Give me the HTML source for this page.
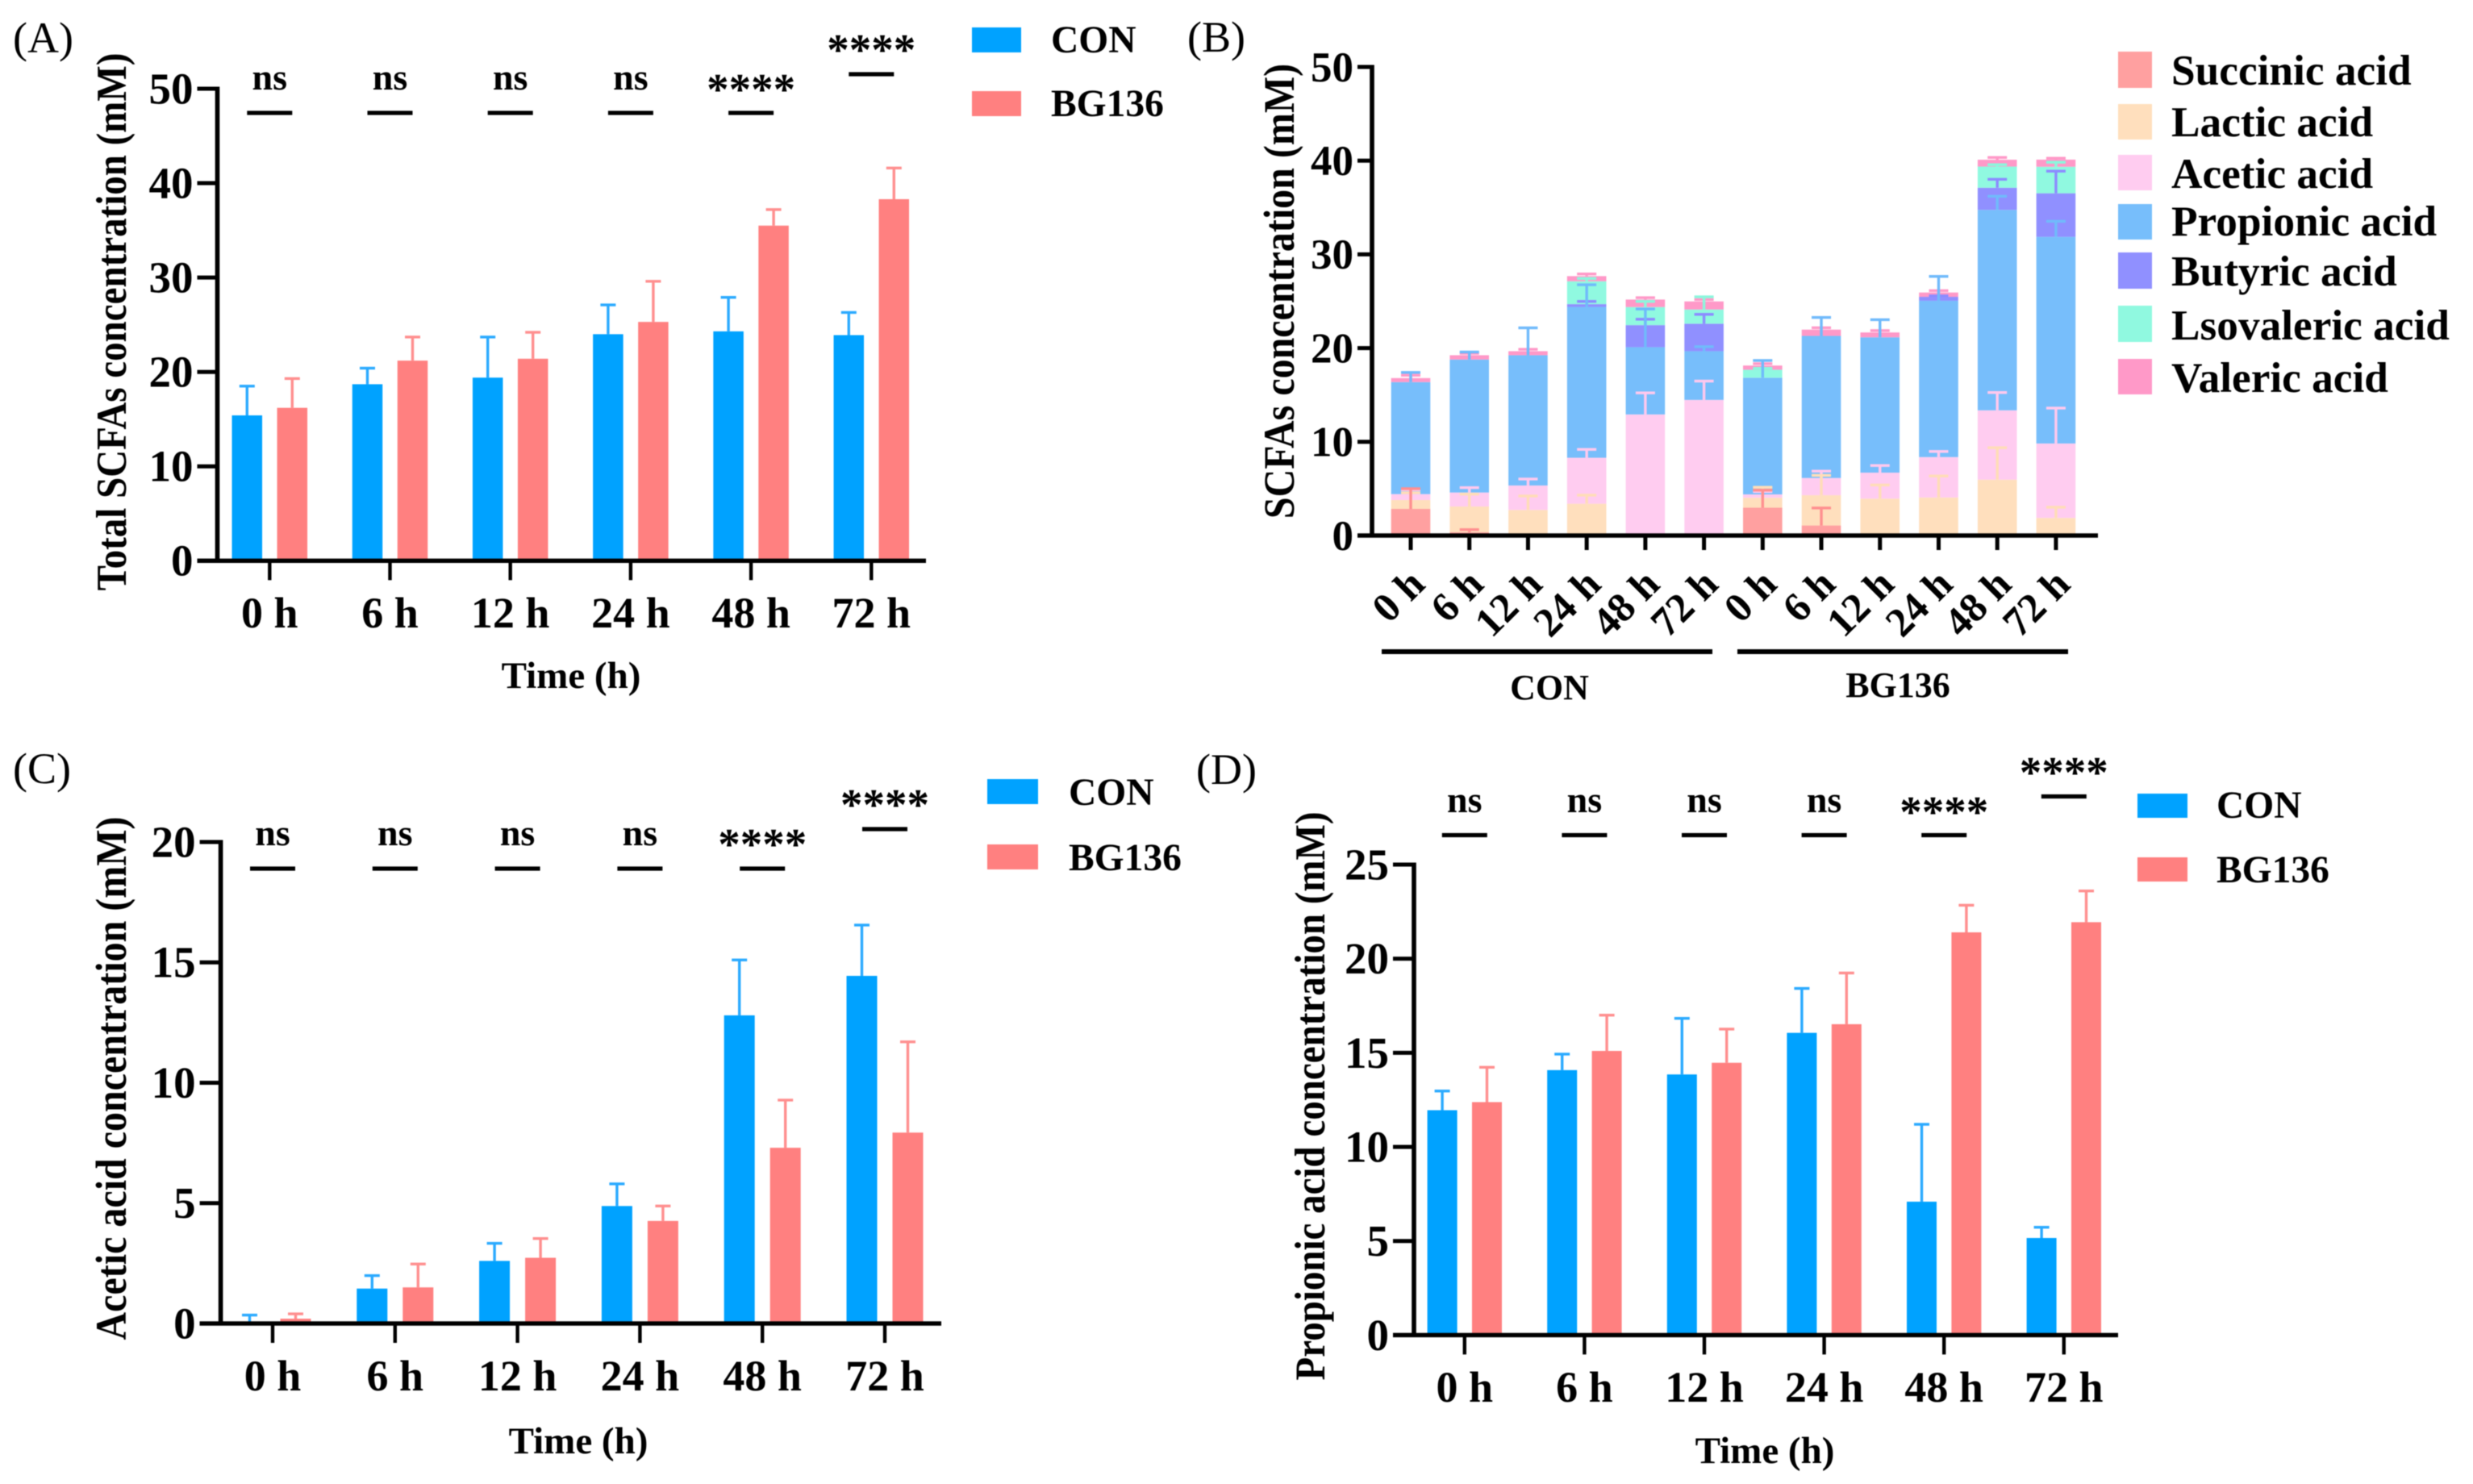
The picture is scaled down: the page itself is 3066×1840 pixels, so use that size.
<!DOCTYPE html>
<html lang="en">
<head>
<meta charset="utf-8">
<title>SCFA concentrations over time</title>
<style>
html,body{margin:0;padding:0;background:#fff;}
svg{display:block;font-family:"Liberation Serif","Noto Serif CJK SC",serif;filter:blur(0.6px);}
.b{font-weight:bold;fill:#000;}
.t{font-size:47px;}
.l{font-size:47.5px;}
.p{font-size:54px;fill:#000;}
.k{font-size:53.3px;}
</style>
</head>
<body>
<svg id="figure" width="3066" height="1840" viewBox="0 0 3066 1840" xmlns="http://www.w3.org/2000/svg">
<rect x="0" y="0" width="3066" height="1840" fill="#fff"/>

<g id="panel-a">
<text class="p" x="16" y="65">(A)</text>
<text class="b t" text-anchor="middle" transform="translate(156,399) rotate(-90) scale(1,1.13)">Total SCFAs concentration (mM)</text>
<text class="b t" text-anchor="middle" x="708" y="853">Time (h)</text>
<rect x="1205" y="34" width="61" height="31" fill="#00A2FF"/>
<text class="b l" x="1303" y="65">CON</text>
<rect x="1205" y="113" width="61" height="31" fill="#FF8080"/>
<text class="b l" x="1303" y="144">BG136</text>
</g>

<g id="panel-b">
<text class="p" x="1472" y="64">(B)</text>
<text class="b t" style="font-size:48px" text-anchor="middle" transform="translate(1604,361) rotate(-90) scale(1,1.13)">SCFAs concentration (mM)</text>
<rect x="1713" y="805" width="410" height="6" fill="#000"/>
<rect x="2154" y="805" width="410" height="6" fill="#000"/>
<text class="b" style="font-size:44px" text-anchor="middle" x="1921" y="867">CON</text>
<text class="b" style="font-size:44px" text-anchor="middle" x="2353" y="864">BG136</text>
<rect x="2626" y="64" width="42" height="45" fill="#FFA0A0"/>
<text class="b k" x="2692" y="105">Succinic acid</text>
<rect x="2626" y="129" width="42" height="44" fill="#FFDFBD"/>
<text class="b k" x="2692" y="169">Lactic acid</text>
<rect x="2626" y="192" width="42" height="44" fill="#FFCCF0"/>
<text class="b k" x="2692" y="233">Acetic acid</text>
<rect x="2626" y="253" width="42" height="44" fill="#77BEFB"/>
<text class="b k" x="2692" y="292">Propionic acid</text>
<rect x="2626" y="313" width="42" height="45" fill="#9090FF"/>
<text class="b k" x="2692" y="354">Butyric acid</text>
<rect x="2626" y="379" width="42" height="45" fill="#90F9E0"/>
<text class="b k" x="2692" y="421">Lsovaleric acid</text>
<rect x="2626" y="445" width="42" height="44" fill="#FF99C8"/>
<text class="b k" x="2692" y="486">Valeric acid</text>
</g>

<g id="panel-c">
<text class="p" x="16" y="971">(C)</text>
<text class="b t" style="font-size:48px" text-anchor="middle" transform="translate(156,1337) rotate(-90) scale(1,1.13)">Acetic acid concentration (mM)</text>
<text class="b t" text-anchor="middle" x="717" y="1802">Time (h)</text>
<rect x="1224" y="966" width="63" height="31" fill="#00A2FF"/>
<text class="b l" x="1325" y="998">CON</text>
<rect x="1224" y="1047" width="63" height="31" fill="#FF8080"/>
<text class="b l" x="1325" y="1079">BG136</text>
</g>

<g id="panel-d">
<text class="p" x="1483" y="972">(D)</text>
<text class="b t" text-anchor="middle" transform="translate(1642,1359) rotate(-90) scale(1,1.13)">Propionic acid concentration (mM)</text>
<text class="b t" text-anchor="middle" x="2188" y="1814">Time (h)</text>
<rect x="2650" y="984" width="62" height="30" fill="#00A2FF"/>
<text class="b l" x="2748" y="1014">CON</text>
<rect x="2650" y="1063" width="62" height="30" fill="#FF8080"/>
<text class="b l" x="2748" y="1094">BG136</text>
</g>
</svg>

<script>
/* shared categories and labels */
const timeLabels = ['0 h', '6 h', '12 h', '24 h', '48 h', '72 h'];
const sigLabels = ['ns', 'ns', 'ns', 'ns', '****', '****'];

/* panel A: total SCFAs */
const totalTicks = [0, 10, 20, 30, 40, 50];
const totalCon = [15.4, 18.7, 19.4, 24.0, 24.3, 23.9];
const totalConErr = [3.1, 1.7, 4.3, 3.1, 3.6, 2.4];
const totalBg = [16.2, 21.2, 21.4, 25.3, 35.5, 38.3];
const totalBgErr = [3.1, 2.5, 2.8, 4.3, 1.7, 3.3];

/* panel C: acetic acid */
const aceticTicks = [0, 5, 10, 15, 20];
const aceticCon = [0.05, 1.45, 2.6, 4.88, 12.8, 14.44];
const aceticConErr = [0.3, 0.54, 0.73, 0.92, 2.3, 2.11];
const aceticBg = [0.2, 1.5, 2.73, 4.26, 7.3, 7.93];
const aceticBgErr = [0.2, 0.97, 0.8, 0.62, 1.98, 3.77];

/* panel D: propionic acid */
const propionicTicks = [0, 5, 10, 15, 20, 25];
const propionicCon = [11.95, 14.08, 13.85, 16.06, 7.09, 5.16];
const propionicConErr = [1.02, 0.85, 2.98, 2.36, 4.11, 0.57];
const propionicBg = [12.38, 15.1, 14.47, 16.52, 21.4, 21.94];
const propionicBgErr = [1.85, 1.9, 1.79, 2.72, 1.44, 1.66];

/* panel B: stacked acids, CON 0-72 h then BG136 0-72 h */
const stackTicks = [0, 10, 20, 30, 40, 50];
const stackLabels = ['0 h', '6 h', '12 h', '24 h', '48 h', '72 h', '0 h', '6 h', '12 h', '24 h', '48 h', '72 h'];
const succinic = [2.84, 0.34, 0, 0, 0, 0, 2.97, 1.07, 0, 0, 0, 0];
const succinicErr = [2.16, 0.29, 0, 0, 0, 0, 1.87, 1.87, 0, 0, 0, 0];
const lactic = [0.95, 2.76, 2.73, 3.39, 0, 0, 1.06, 3.23, 3.94, 4.06, 5.96, 1.88];
const lacticErr = [0.77, 1.32, 1.49, 0.92, 0, 0, 1.12, 2.12, 1.45, 2.29, 3.41, 1.14];
const acetic = [0.63, 1.49, 2.61, 4.91, 12.92, 14.47, 0.36, 1.84, 2.77, 4.31, 7.4, 7.94];
const aceticStackErr = [0.46, 0.52, 0.69, 0.89, 2.3, 2.01, 0.3, 0.73, 0.76, 0.6, 1.9, 3.78];
const propionic = [11.95, 14.19, 13.9, 16.1, 7.18, 5.2, 12.45, 15.16, 14.44, 16.68, 21.39, 22.05];
const propionicStackErr = [1.03, 0.8, 2.92, 2.36, 4.07, 0.48, 1.84, 1.97, 1.88, 2.6, 1.45, 1.66];
const butyric = [0, 0, 0, 0.29, 2.35, 2.93, 0, 0, 0, 0.42, 2.36, 4.65];
const butyricErr = [0, 0, 0, 0.29, 0.63, 1.0, 0, 0, 0, 0.1, 0.9, 2.36];
const isovaleric = [0, 0, 0, 2.44, 1.93, 1.52, 0.85, 0, 0, 0, 2.26, 2.83];
const isovalericErr = [0, 0, 0, 0.3, 0.6, 1.35, 0.15, 0, 0, 0, 0.2, 0.48];
const valeric = [0.43, 0.46, 0.43, 0.55, 0.8, 0.86, 0.45, 0.67, 0.52, 0.46, 0.73, 0.76];
const valericErr = [0.3, 0.2, 0.2, 0.23, 0.2, 0.2, 0.2, 0.2, 0.2, 0.2, 0.24, 0.15];

const SVG_NS = 'http://www.w3.org/2000/svg';

function add(parent, tag, name, attrs, text) {
  const el = document.createElementNS(SVG_NS, tag);
  
  
  for (const key in attrs) el.setAttribute(key, attrs[key]);
  if (text !== undefined) el.textContent = text;
  parent.appendChild(el);
  return el;
}

function rectBetween(parent, name, x0, y0, x1, y1, fill) {
  return add(parent, 'rect', name, {
    x: Math.min(x0, x1), y: Math.min(y0, y1),
    width: Math.abs(x1 - x0), height: Math.abs(y1 - y0), fill: fill
  });
}

function errorBar(parent, name, cx, yBase, yTop, color, capW) {
  rectBetween(parent, name + '-stem', cx - 1.7, yBase, cx + 1.7, yTop, color);
  rectBetween(parent, name + '-cap', cx - capW / 2, yTop - 1.7, cx + capW / 2, yTop + 1.7, color);
}

function drawAxes(g, c, ticks, tickFont) {
  const yMax = ticks[ticks.length - 1];
  const yScale = v => c.y0 - v * (c.y0 - c.yTop) / yMax;
  ticks.forEach(t => {
    const y = yScale(t);
    rectBetween(g, 'y-tick-' + t, c.axisX - c.tickLen, y - 2.5, c.axisX, y + 2.5, '#000');
    add(g, 'text', 'y-tick-label-' + t, {
      x: c.axisX - c.tickLen - 5, y: y + tickFont * 0.335, 'text-anchor': 'end',
      class: 'b', style: 'font-size:' + tickFont + 'px'
    }, String(t));
  });
  rectBetween(g, 'y-axis-line', c.axisX - 2.8, c.yTop - 2.5, c.axisX + 2.8, c.y0 + 2.5, '#000');
  rectBetween(g, 'x-axis-line', c.axisX - c.tickLen, c.y0 - 2.7, c.axisEnd, c.y0 + 2.7, '#000');
  return yScale;
}

function drawGrouped(id, c, ticks, labels, con, conErr, bg, bgErr) {
  const g = document.getElementById(id);
  const xScale = i => c.x0 + i * c.step;
  const yScale = v => c.y0 - v * (c.y0 - c.yTop) / ticks[ticks.length - 1];

  labels.forEach((label, i) => {
    const cx = xScale(i);
    const a = cx - c.offset;
    const b = cx + c.offset;
    rectBetween(g, 'bar-con-' + i, a - c.barW / 2, yScale(con[i]), a + c.barW / 2, c.y0, '#00A2FF');
    errorBar(g, 'error-con-' + i, a, yScale(con[i]), yScale(con[i] + conErr[i]), '#2BAAFF', 19);
    rectBetween(g, 'bar-bg136-' + i, b - c.barW / 2, yScale(bg[i]), b + c.barW / 2, c.y0, '#FF8080');
    errorBar(g, 'error-bg136-' + i, b, yScale(bg[i]), yScale(bg[i] + bgErr[i]), '#FF8F8F', 19);
  });

  drawAxes(g, c, ticks, 55);

  labels.forEach((label, i) => {
    const cx = xScale(i);
    rectBetween(g, 'x-tick-' + i, cx - 2.2, c.y0, cx + 2.2, c.y0 + 24, '#000');
    add(g, 'text', 'x-tick-label-' + i, {
      x: cx, y: c.tickLabelY, 'text-anchor': 'middle', class: 'b', style: 'font-size:54px'
    }, label);
    const top = i === labels.length - 1;
    const lineY = top ? c.sigTopLine : c.sigLine;
    rectBetween(g, 'significance-line-' + i, cx - 28, lineY - 2.6, cx + 28, lineY + 2.6, '#000');
    const isStars = sigLabels[i] !== 'ns';
    const textY = isStars ? (top ? c.starTopY : c.starY) : c.nsY;
    add(g, 'text', 'significance-label-' + i, {
      x: cx, y: textY, 'text-anchor': 'middle', class: 'b',
      style: 'font-size:' + (isStars ? 55 : 46) + 'px'
    }, sigLabels[i]);
  });
}

function drawStacked() {
  const g = document.getElementById('panel-b');
  const c = { axisX: 1701, axisEnd: 2601, tickLen: 18, y0: 664, yTop: 83 };
  const xScale = i => 1749 + i * 72.72;
  const yScale = v => c.y0 - v * (c.y0 - c.yTop) / stackTicks[stackTicks.length - 1];
  const names = ['succinic', 'lactic', 'acetic', 'propionic', 'butyric', 'isovaleric', 'valeric'];
  const colors = ['#FFA0A0', '#FFDFBD', '#FFCCF0', '#77BEFB', '#9090FF', '#90F9E0', '#FF99C8'];
  const errColors = ['#FF9090', '#FFDDB8', '#FFC8EE', '#70BAFB', '#8C8CFF', '#8CF7DD', '#FF99C8'];
  const series = [succinic, lactic, acetic, propionic, butyric, isovaleric, valeric];
  const errors = [succinicErr, lacticErr, aceticStackErr, propionicStackErr, butyricErr, isovalericErr, valericErr];

  stackLabels.forEach((label, i) => {
    const cx = xScale(i);
    const tops = [];
    let sum = 0;
    series.forEach((s, k) => {
      const start = sum;
      sum += s[i];
      tops.push(sum);
      if (s[i] > 0) {
        rectBetween(g, 'bar-' + names[k] + '-' + i, cx - 24.3, yScale(sum), cx + 24.3, yScale(start), colors[k]);
      }
    });
    for (let k = series.length - 1; k >= 0; k--) {
      if (series[k][i] > 0) {
        errorBar(g, 'error-' + names[k] + '-' + i, cx, yScale(tops[k]), yScale(tops[k] + errors[k][i]), errColors[k], 24);
      }
    }
  });

  drawAxes(g, c, stackTicks, 53);

  stackLabels.forEach((label, i) => {
    const cx = xScale(i);
    rectBetween(g, 'x-tick-' + i, cx - 2.5, c.y0, cx + 2.5, c.y0 + 18, '#000');
    add(g, 'text', 'x-tick-label-' + i, {
      'text-anchor': 'end', class: 'b', style: 'font-size:51px',
      transform: 'translate(' + (cx + 20) + ',727) rotate(-45)'
    }, label);
  });
}

drawGrouped('panel-a',
  { x0: 334.3, step: 149.2, offset: 28, barW: 37.5, y0: 695.3, yTop: 110, axisX: 269.5, axisEnd: 1148, tickLen: 25,
    tickLabelY: 778, sigLine: 140, sigTopLine: 92, nsY: 111, starY: 129, starTopY: 80 },
  totalTicks, timeLabels, totalCon, totalConErr, totalBg, totalBgErr);

drawGrouped('panel-c',
  { x0: 338, step: 151.8, offset: 28.5, barW: 38, y0: 1641, yTop: 1044, axisX: 273.6, axisEnd: 1167, tickLen: 26,
    tickLabelY: 1724, sigLine: 1077, sigTopLine: 1028, nsY: 1048, starY: 1065, starTopY: 1016 },
  aceticTicks, timeLabels, aceticCon, aceticConErr, aceticBg, aceticBgErr);

drawGrouped('panel-d',
  { x0: 1815.8, step: 148.6, offset: 27.7, barW: 37, y0: 1655.4, yTop: 1072, axisX: 1753, axisEnd: 2626, tickLen: 26,
    tickLabelY: 1738, sigLine: 1035.5, sigTopLine: 987.5, nsY: 1007, starY: 1025, starTopY: 976 },
  propionicTicks, timeLabels, propionicCon, propionicConErr, propionicBg, propionicBgErr);

drawStacked();
</script>
</body>
</html>
